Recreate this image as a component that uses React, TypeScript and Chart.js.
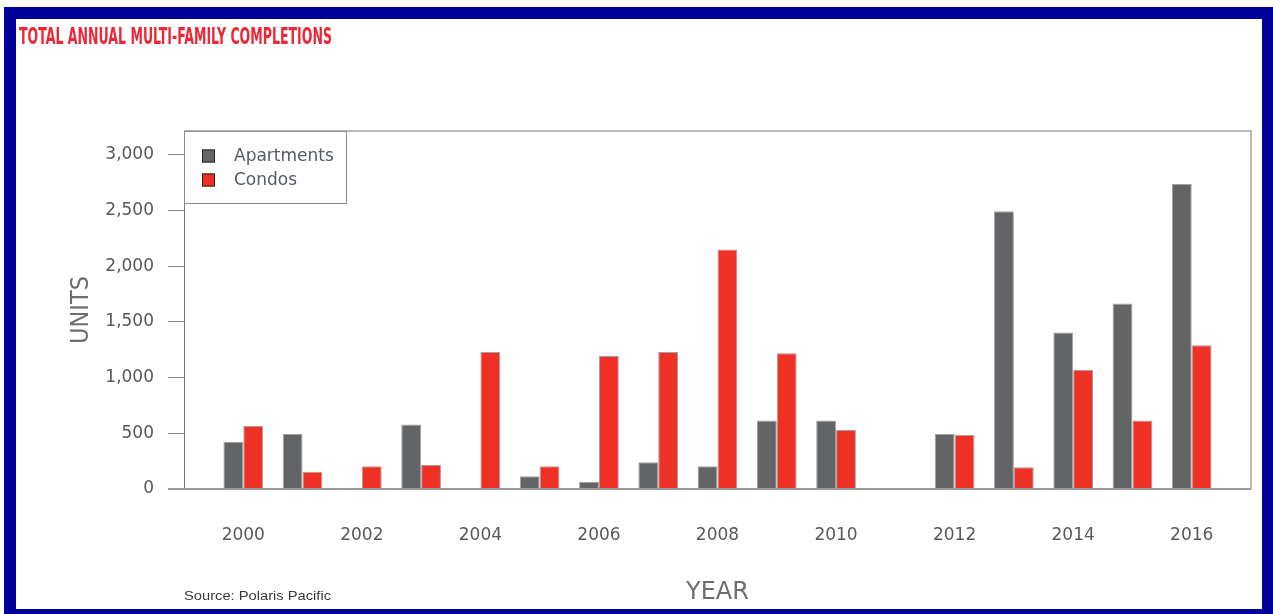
import React, { useEffect, useLayoutEffect, useRef } from 'react';
import { Chart, registerables } from 'chart.js';

Chart.register(...registerables);

// Category axis (1999 and 2017 are empty padding slots so labels sit as in the original)
const years = ['1999', '2000', '2001', '2002', '2003', '2004', '2005', '2006', '2007', '2008', '2009', '2010', '2011', '2012', '2013', '2014', '2015', '2016', '2017'];
const apartments = [null, 425, 495, 0, 580, 0, 115, 65, 240, 205, 615, 615, null, 495, 2495, 1405, 1665, 2740, null];
const condos = [null, 565, 155, 205, 215, 1230, 205, 1195, 1230, 2150, 1220, 530, null, 485, 195, 1070, 615, 1290, null];
const seriesNames = ['Apartments', 'Condos'];
const seriesColors = ['#636466', '#EE3124'];
const yTicks = [0, 500, 1000, 1500, 2000, 2500, 3000];
const yMax = 3215;
const titleText = 'TOTAL ANNUAL MULTI-FAMILY COMPLETIONS';
const sourceText = 'Source: Polaris Pacific';
const xTitle = 'YEAR';
const yTitle = 'UNITS';

const W = 1273;
const H = 614;
const textGray = '#58595B';

const framePlugin = {
  id: 'frame',
  afterDatasetsDraw(chart: any) {
    const { ctx, chartArea } = chart;
    const { left, right, top, bottom } = chartArea;
    ctx.save();
    ctx.strokeStyle = '#a4a4a4';
    ctx.lineWidth = 1.5;
    ctx.beginPath();
    ctx.moveTo(left, top);
    ctx.lineTo(right, top);
    ctx.lineTo(right, bottom);
    ctx.stroke();
    ctx.strokeStyle = '#7d7d7d';
    ctx.lineWidth = 1;
    ctx.beginPath();
    ctx.moveTo(left + 0.5, top);
    ctx.lineTo(left + 0.5, bottom);
    ctx.stroke();
    ctx.strokeStyle = '#9a9a9a';
    ctx.lineWidth = 2;
    ctx.beginPath();
    ctx.moveTo(left - 16, bottom);
    ctx.lineTo(right, bottom);
    ctx.stroke();
    ctx.restore();
  },
};

const boxLegendPlugin = {
  id: 'boxLegend',
  afterDraw(chart: any) {
    const { ctx, chartArea } = chart;
    const x0 = chartArea.left;
    const y0 = chartArea.top;
    const w = 162;
    const h = 72;
    ctx.save();
    ctx.fillStyle = '#ffffff';
    ctx.fillRect(x0, y0, w, h);
    ctx.strokeStyle = '#8c8c8c';
    ctx.lineWidth = 1;
    ctx.strokeRect(x0 + 0.5, y0 + 0.5, w, h);
    ctx.font = '17px "DejaVu Sans", sans-serif';
    ctx.textBaseline = 'middle';
    ctx.textAlign = 'left';
    chart.data.datasets.forEach((ds: any, i: number) => {
      const cy = y0 + 25 + i * 24;
      ctx.fillStyle = ds.backgroundColor;
      ctx.fillRect(x0 + 18, cy - 6.5, 13, 13);
      ctx.strokeStyle = '#222';
      ctx.lineWidth = 1;
      ctx.strokeRect(x0 + 18.5, cy - 6, 12, 12);
      ctx.fillStyle = '#555a63';
      ctx.fillText(ds.label, x0 + 50, cy + 0.5);
    });
    ctx.restore();
  },
};

function FitText(props: { text: string; left: number; top: number; width: number; style: any }) {
  const ref = useRef<HTMLSpanElement>(null);
  useLayoutEffect(() => {
    const fit = () => {
      const el = ref.current;
      if (!el) return;
      el.style.transform = 'none';
      const w = el.getBoundingClientRect().width;
      if (w > 0) el.style.transform = `scaleX(${props.width / w})`;
    };
    fit();
    if ((document as any).fonts && (document as any).fonts.ready) {
      (document as any).fonts.ready.then(fit);
    }
  }, [props.text, props.width]);
  return (
    <span
      ref={ref}
      style={{
        position: 'absolute',
        left: props.left,
        top: props.top,
        whiteSpace: 'nowrap',
        transformOrigin: '0 0',
        lineHeight: 1,
        ...props.style,
      }}
    >
      {props.text}
    </span>
  );
}

export default function App() {
  const canvasRef = useRef<HTMLCanvasElement>(null);

  useEffect(() => {
    if (!canvasRef.current) return;
    const chart = new Chart(canvasRef.current, {
      type: 'bar',
      data: {
        labels: years,
        datasets: [
          {
            label: seriesNames[0],
            data: apartments as any,
            backgroundColor: seriesColors[0],
            borderColor: '#a0a0a0',
            borderWidth: 1,
            categoryPercentage: 0.67,
            barPercentage: 1,
          },
          {
            label: seriesNames[1],
            data: condos as any,
            backgroundColor: seriesColors[1],
            borderColor: '#a0a0a0',
            borderWidth: 1,
            categoryPercentage: 0.67,
            barPercentage: 1,
          },
        ],
      },
      options: {
        responsive: false,
        animation: false,
        devicePixelRatio: 1,
        layout: { padding: { left: 0, top: 131, right: 22, bottom: 0 } },
        plugins: {
          legend: { display: false },
          tooltip: { enabled: false },
          title: { display: false },
        },
        scales: {
          x: {
            type: 'category',
            offset: false,
            grid: { display: false },
            border: { display: false },
            ticks: {
              autoSkip: false,
              maxRotation: 0,
              minRotation: 0,
              padding: 28,
              color: textGray,
              font: { family: '"DejaVu Sans", sans-serif', size: 17 },
              callback: (_v: any, idx: number) => {
                const y = Number(years[idx]);
                return y % 2 === 0 ? years[idx] : null;
              },
            },
            title: {
              display: true,
              text: xTitle,
              color: '#6d6e71',
              font: { family: '"DejaVu Sans", sans-serif', size: 24 },
              padding: { top: 0, bottom: 7 },
            },
            afterFit: (s: any) => {
              s.height = 125;
            },
          },
          y: {
            min: 0,
            max: yMax,
            grid: {
              drawOnChartArea: false,
              drawTicks: true,
              tickLength: 16,
              color: '#8a8a8a',
              lineWidth: 1,
            },
            border: { display: false },
            ticks: {
              padding: 14,
              color: textGray,
              font: { family: '"DejaVu Sans", sans-serif', size: 17 },
              callback: (v: any) => Number(v).toLocaleString('en-US'),
            },
            afterBuildTicks: (s: any) => {
              s.ticks = yTicks.map((v) => ({ value: v }));
            },
            title: {
              display: true,
              text: yTitle,
              color: '#6d6e71',
              font: { family: '"DejaVu Sans Condensed", "DejaVu Sans", sans-serif', size: 25 },
              padding: { top: 66, bottom: 0 },
            },
            afterFit: (s: any) => {
              s.width = 184;
            },
          },
        },
      } as any,
      plugins: [framePlugin, boxLegendPlugin],
    });
    return () => chart.destroy();
  }, []);

  return (
    <div style={{ position: 'absolute', left: 0, top: 0, width: W, height: H, background: '#ffffff', overflow: 'hidden' }}>
      <canvas ref={canvasRef} width={W} height={H} style={{ position: 'absolute', left: 0, top: 0, width: W, height: H }} />
      <FitText
        text={titleText}
        left={19}
        top={24.5}
        width={313}
        style={{ fontFamily: '"Liberation Sans Narrow", "DejaVu Sans Condensed", sans-serif', fontWeight: 'bold', fontSize: 22.5, color: '#EE2636' }}
      />
      <FitText
        text={sourceText}
        left={184}
        top={589}
        width={147}
        style={{ fontFamily: '"Liberation Sans", Arial, sans-serif', fontSize: 13.5, color: '#3a3a3a' }}
      />
      <div
        style={{
          position: 'absolute',
          left: 4,
          top: 7,
          width: W - 4,
          height: H - 7,
          boxSizing: 'border-box',
          borderStyle: 'solid',
          borderColor: '#000099',
          borderTopWidth: 12,
          borderLeftWidth: 12,
          borderRightWidth: 11,
          borderBottomWidth: 5,
          pointerEvents: 'none',
        }}
      />
    </div>
  );
}
